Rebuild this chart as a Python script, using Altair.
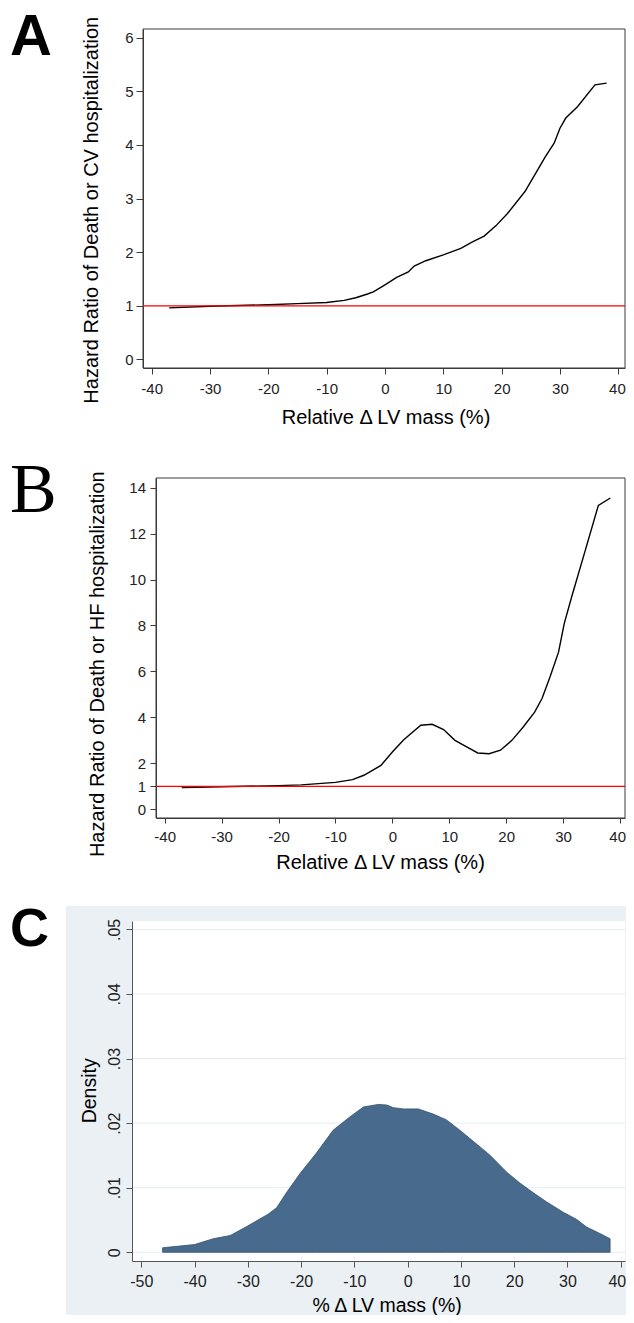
import altair as alt
import pandas as pd

# ---------------- data ----------------
# Panel A: hazard ratio of death or CV hospitalization
A_X = [-37, -30, -20, -15, -10, -7, -5, -3, -2, 0, 2, 4, 5, 7, 10, 13, 15, 17, 19,
       21, 24, 26, 27.5, 29, 30, 31, 33, 36, 38]
A_HR = [0.96, 0.99, 1.02, 1.04, 1.06, 1.10, 1.15, 1.22, 1.26, 1.39, 1.53, 1.63, 1.74,
        1.84, 1.95, 2.07, 2.19, 2.30, 2.49, 2.72, 3.13, 3.50, 3.78, 4.03, 4.31, 4.50,
        4.71, 5.12, 5.15]

# Panel B: hazard ratio of death or HF hospitalization
B_X = [-37, -30, -20, -16, -10, -7, -5, -2, 0, 2, 5, 7, 9, 11, 13.3, 15, 17, 19, 21,
       23, 25, 26.3, 27.7, 29.2, 30.2, 31.5, 33.9, 36.2, 38.3]
B_HR = [0.95, 0.98, 1.03, 1.06, 1.17, 1.29, 1.48, 1.91, 2.49, 3.03, 3.66, 3.70, 3.47,
        3.00, 2.68, 2.45, 2.42, 2.57, 3.00, 3.58, 4.23, 4.82, 5.76, 6.84, 8.08, 9.24,
        11.27, 13.23, 13.55]

# Panel C: density of % change in LV mass
C_X = [-46, -40, -36.5, -33.3, -30.2, -26.2, -24.6, -22.7, -20.2, -17.1, -14, -10.8,
       -8.3, -5.5, -3.9, -2.7, -0.8, 2, 4.8, 7.3, 9.8, 12.3, 15.5, 18.6, 21.1, 23.6,
       26.1, 29.2, 31.7, 33.6, 36.1, 38]
C_DENSITY = [0.0007, 0.0012, 0.0021, 0.0026, 0.0040, 0.0059, 0.0069, 0.0093, 0.0122,
             0.0154, 0.0189, 0.0210, 0.0225, 0.0229, 0.0228, 0.0224, 0.0222, 0.0222,
             0.0214, 0.0205, 0.0189, 0.0172, 0.0150, 0.0124, 0.0107, 0.0092, 0.0078,
             0.0062, 0.0051, 0.0039, 0.0029, 0.0021]

REF_HR = [1]
HR_X_TICKS = [-40, -30, -20, -10, 0, 10, 20, 30, 40]
A_Y_TICKS = [0, 1, 2, 3, 4, 5, 6]
B_Y_TICKS = [0, 1, 2, 4, 6, 8, 10, 12, 14]
C_X_TICKS = [-50, -40, -30, -20, -10, 0, 10, 20, 30, 40]
C_Y_TICKS = [0, 0.01, 0.02, 0.03, 0.04, 0.05]

# ---------------- styling ----------------
FONT = "Liberation Sans"
SERIF = "Liberation Serif"
FRAME = "#3a3a3a"
ONE = pd.DataFrame({"k": [0]})


def common(**kw):
    base = dict(labelFont=FONT, labelFontSize=15, labelColor="#222222",
                domainColor=FRAME, tickColor=FRAME, titleFont=FONT, titleFontSize=20,
                titleFontWeight="normal", titleColor="black", grid=False,
                labelFlush=False, labelOverlap=False, titleBaseline="alphabetic",
                titleAlign="center", labelExpr="'' + datum.value")
    base.update(kw)
    return alt.Axis(**base)


def bounds_box(top, bottom):
    return alt.Chart(ONE).mark_rect(opacity=0).encode(
        x=alt.value(0), x2=alt.value(1), y=alt.value(-top), y2=alt.value(bottom))


def frame(w, h):
    return alt.Chart(ONE).mark_rect(fillOpacity=0, stroke=FRAME, strokeWidth=1).encode(
        x=alt.value(0), x2=alt.value(w), y=alt.value(0), y2=alt.value(h))


def letter(t, x, y, font, size, weight):
    return alt.Chart(ONE).mark_text(text=t, font=font, fontSize=size, fontWeight=weight,
                                    align="left", baseline="alphabetic",
                                    color="black").encode(x=alt.value(x), y=alt.value(y))


spacer = alt.Chart(ONE).mark_rect(opacity=0).encode(
    x=alt.value(0), x2=alt.value(1), y=alt.value(0), y2=alt.value(1)
).properties(width=1, height=1)

# ---------------- Panel A ----------------
WA, HA = 482, 339
xA = alt.X("x:Q", scale=alt.Scale(domain=[-41.49, 41.15], nice=False, zero=False),
           axis=common(values=HR_X_TICKS, title="Relative Δ LV mass (%)", tickSize=6,
                       labelPadding=19.3, labelBaseline="alphabetic", titleY=55.3,
                       titleX=242.5, labelFlush=8, labelFlushOffset=7))
yA = alt.Y("y:Q", scale=alt.Scale(domain=[-0.16, 6.16], nice=False, zero=False),
           axis=common(values=A_Y_TICKS, title="Hazard Ratio of Death or CV hospitalization",
                       tickSize=7, labelPadding=3, labelAlign="right",
                       labelBaseline="middle", titleAngle=270, titleX=-45.7,
                       titleY=180.7))
lineA = alt.Chart(pd.DataFrame({"x": A_X, "y": A_HR})).mark_line(
    color="black", strokeWidth=1.4).encode(x=xA, y=yA)
ruleA = alt.Chart(pd.DataFrame({"y": REF_HR})).mark_rule(
    color="#ff0000", strokeWidth=1.3).encode(y=yA)
panelA = alt.layer(bounds_box(20, 405), frame(WA, HA), lineA, ruleA,
                   letter("A", -133, 26, FONT, 58, "bold")).properties(width=WA, height=HA)

# ---------------- Panel B ----------------
WB, HB = 469, 340
xB = alt.X("x:Q", scale=alt.Scale(domain=[-41.53, 40.88], nice=False, zero=False),
           axis=common(values=HR_X_TICKS, title="Relative Δ LV mass (%)", tickSize=5,
                       labelPadding=18.7, labelBaseline="alphabetic", titleY=50.5,
                       titleX=224, labelFlush=8, labelFlushOffset=5.5))
yB = alt.Y("y:Q", scale=alt.Scale(domain=[-0.38, 14.42], nice=False, zero=False),
           axis=common(values=B_Y_TICKS, title="Hazard Ratio of Death or HF hospitalization",
                       tickSize=6, labelPadding=4.5, labelAlign="right",
                       labelBaseline="middle", titleAngle=270, titleX=-52.7,
                       titleY=185.7))
lineB = alt.Chart(pd.DataFrame({"x": B_X, "y": B_HR})).mark_line(
    color="black", strokeWidth=1.4).encode(x=xB, y=yB)
ruleB = alt.Chart(pd.DataFrame({"y": REF_HR})).mark_rule(
    color="#ff0000", strokeWidth=1.3).encode(y=yB)
panelB = alt.layer(bounds_box(44, 400), frame(WB, HB), lineB, ruleB,
                   letter("B", -146, 33.7, SERIF, 70, "normal")).properties(width=WB, height=HB)

# ---------------- Panel C ----------------
WC, HC = 493, 340
CAX = "#555555"
xC = alt.X("x:Q", scale=alt.Scale(domain=[-51.75, 40.80], nice=False, zero=False),
           axis=common(values=C_X_TICKS, title="% Δ LV mass (%)", tickSize=6,
                       labelPadding=19, labelBaseline="alphabetic", titleY=50,
                       titleX=254.7, labelFontSize=16, titleFontSize=19.5,
                       domainColor=CAX, tickColor=CAX, zindex=1,
                       labelFlush=8, labelFlushOffset=5))
yC = alt.Y("y:Q", scale=alt.Scale(domain=[-0.00135, 0.0513], nice=False, zero=False),
           axis=common(values=C_Y_TICKS, title="Density", tickSize=6, labelPadding=6.5,
                       labelAngle=270, labelAlign="center", labelBaseline="alphabetic",
                       titleAngle=270, titleX=-37, titleY=169.3, labelFontSize=16,
                       titleFontSize=19.5, domainColor=CAX, tickColor=CAX, zindex=1,
                       labelExpr="datum.value == 0 ? '0' : '.0' + format(datum.value * 100, 'd')"))
bgC = alt.Chart(ONE).mark_rect(color="#EAF0F3").encode(
    x=alt.value(-66), x2=alt.value(494), y=alt.value(-15), y2=alt.value(394))
plotC = alt.Chart(ONE).mark_rect(color="white").encode(
    x=alt.value(0), x2=alt.value(WC), y=alt.value(0), y2=alt.value(HC))
gridC = alt.Chart(pd.DataFrame({"y": C_Y_TICKS})).mark_rule(
    color="#E4ECF0", strokeWidth=1).encode(y=yC)
areaC = alt.Chart(pd.DataFrame({"x": C_X, "y": C_DENSITY})).mark_area(
    color="#486A8C", stroke="#34506E", strokeWidth=0.8).encode(x=xC, y=yC)
panelC = alt.layer(bounds_box(43, 394), bgC, plotC, gridC, areaC,
                   letter("C", -122, 25, FONT, 54, "bold")).properties(width=WC, height=HC)

rowA = alt.hconcat(spacer, panelA, spacing=0)
rowB = alt.hconcat(spacer, panelB, spacing=0)
rowC = alt.hconcat(spacer, panelC, spacing=0)

chart = alt.vconcat(rowA, rowB, rowC, spacing=0).properties(
    padding={"left": 1, "top": 1, "right": 0, "bottom": 0}
).configure_view(stroke=None)

chart.save("out.html", embed_options={"renderer": "svg", "actions": False})
